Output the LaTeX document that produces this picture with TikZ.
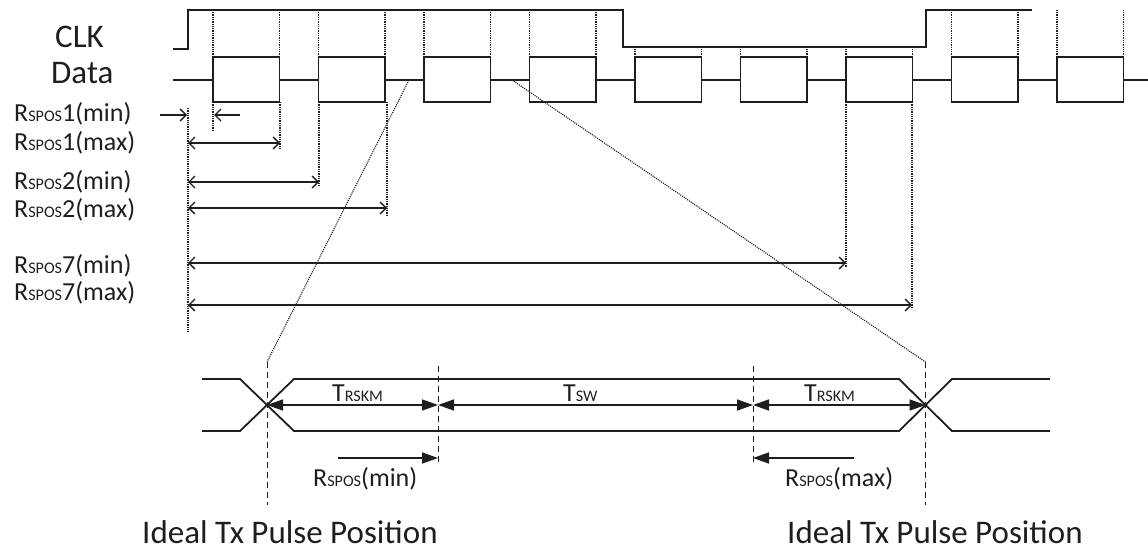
\documentclass[tikz,border=0pt]{standalone}
\usepackage{fontspec}
\setmainfont{Carlito}
\usepackage{graphicx}
\usetikzlibrary{arrows.meta,positioning,calc}
\usepackage{xcolor}
\definecolor{tdInk}{HTML}{1E1E1E}
\newcommand{\lowcap}[1]{\scalebox{0.62}{#1}}

\begin{document}
\begin{tikzpicture}[x=1pt, y=-1pt,
  sig/.style={draw=tdInk, line width=1.8pt, line join=miter},
  guide/.style={draw=tdInk, line width=1.3pt, densely dotted},
  slant/.style={draw=tdInk, line width=1.1pt, densely dotted},
  ideal/.style={draw=tdInk, line width=1pt, dash pattern=on 6pt off 4pt},
  span/.style={draw=tdInk, line width=1.3pt, {Straight Barb[length=6pt,width=12pt]}-{Straight Barb[length=6pt,width=12pt]}},
  half/.style={draw=tdInk, line width=1.3pt, -{Straight Barb[length=6pt,width=12pt]}},
  fspan/.style={draw=tdInk, line width=1.6pt, {Triangle[length=16pt,width=11pt]}-{Triangle[length=16pt,width=11pt]}},
  fhalf/.style={draw=tdInk, line width=1.6pt, -{Triangle[length=16pt,width=11pt]}},
  lbl/.style={font=\fontsize{26}{28}\selectfont, text=tdInk, inner sep=0pt, anchor=base west},
  big/.style={font=\fontsize{33}{36}\selectfont, text=tdInk, inner sep=0pt, anchor=base west}]
\useasboundingbox (0,0) rectangle (1148,554);

% ── signal names ──
\node[big] (clk)  at (55,47) {CLK};
\node[big] (data) at (51,83) {Data};

% ── CLK and Data waveforms ──
\draw[sig] (173,49) -- (188,49) -- (188,10) -- (623,10) -- (623,47) -- (926,47) -- (926,10) -- (1032,10);
\draw[sig] (173,80) -- (213,80);
\foreach \i in {0,...,8}{
  \pgfmathsetmacro{\bx}{213+105.5*\i}
  \pgfmathsetmacro{\nx}{min(\bx+105.5,1148)}
  \coordinate (bt\i) at (\bx,57);
  \draw[sig] (bt\i) rectangle ++(66.5,45);
  \draw[sig] ({\bx+66.5},80) -- (\nx,80);
}
% dotted edges up to the clock
\foreach \i in {0,1,2,3,7,8}{
  \draw[guide] (bt\i) -- ++(0,-47);
  \draw[guide] ($(bt\i)+(66.5,0)$) -- ++(0,-47);
}
\foreach \i in {4,5,6}{
  \draw[guide] (bt\i) -- ++(0,-10);
  \draw[guide] ($(bt\i)+(66.5,0)$) -- ++(0,-10);
}

% ── reference line and edge projections ──
\coordinate (ref) at (188,108);
\draw[guide] (ref) -- (188,332);
\draw[guide] (213,102) -- (213,130);
\draw[guide] (280,102) -- (280,150);
\draw[guide] (319,102) -- (319,187);
\draw[guide] (387,102) -- (387,216);
\draw[guide] (846,102) -- (846,267);
\draw[guide] (912,102) -- (912,309);

% ── position labels ──
\node[lbl] (p1min) at (14,121) {R\lowcap{SPOS}1(min)};
\node[lbl] (p1max) at (14,150) {R\lowcap{SPOS}1(max)};
\node[lbl] (p2min) at (14,189) {R\lowcap{SPOS}2(min)};
\node[lbl] (p2max) at (14,217) {R\lowcap{SPOS}2(max)};
\node[lbl] (p7min) at (14,273) {R\lowcap{SPOS}7(min)};
\node[lbl] (p7max) at (14,300) {R\lowcap{SPOS}7(max)};

\draw[half] (160,115) -- (187,115);
\draw[half] (240,115) -- (214,115);
\draw[span] (188,143) -- (280,143);
\draw[span] (188,182) -- (319,182);
\draw[span] (188,208) -- (387,208);
\draw[span] (188,263) -- (846,263);
\draw[span] (188,305) -- (912,305);

% ── zoomed bit window ──
\coordinate (xl) at (267,405);
\coordinate (xr) at (925.5,405);
\draw[slant] (409,80) -- (267,362);
\draw[slant] (512,80) -- (925.5,362);
\draw[sig] (202,379) -- (240,379) -- (294,431) -- (899,431) -- (952,379) -- (1050,379);
\draw[sig] (202,431) -- (240,431) -- (294,379) -- (899,379) -- (952,431) -- (1050,431);
\coordinate (smin) at (438,405);
\coordinate (smax) at (753,405);
\draw[ideal] (267,362) -- (267,505);
\draw[ideal] (438,366) -- (438,463);
\draw[ideal] (753,366) -- (753,463);
\draw[ideal] (925.5,362) -- (925.5,505);

\draw[fspan] (xl) -- (smin);
\draw[fspan] (smin) -- (smax);
\draw[fspan] (smax) -- (xr);
\node[lbl] (tl) at (332,401) {T\lowcap{RSKM}};
\node[lbl] (tw) at (563,401) {T\lowcap{SW}};
\node[lbl] (tr) at (804,401) {T\lowcap{RSKM}};

\draw[fhalf] (338,458) -- (smin |- 0,458);
\draw[fhalf] (854,458) -- (smax |- 0,458);
\node[lbl] (rmin) at (313,486) {R\lowcap{SPOS}(min)};
\node[lbl] (rmax) at (785,486) {R\lowcap{SPOS}(max)};

\node[big] (il) at (142,543) {Ideal Tx Pulse Position};
\node[big] (ir) at (787,543) {Ideal Tx Pulse Position};
\end{tikzpicture}
\end{document}
